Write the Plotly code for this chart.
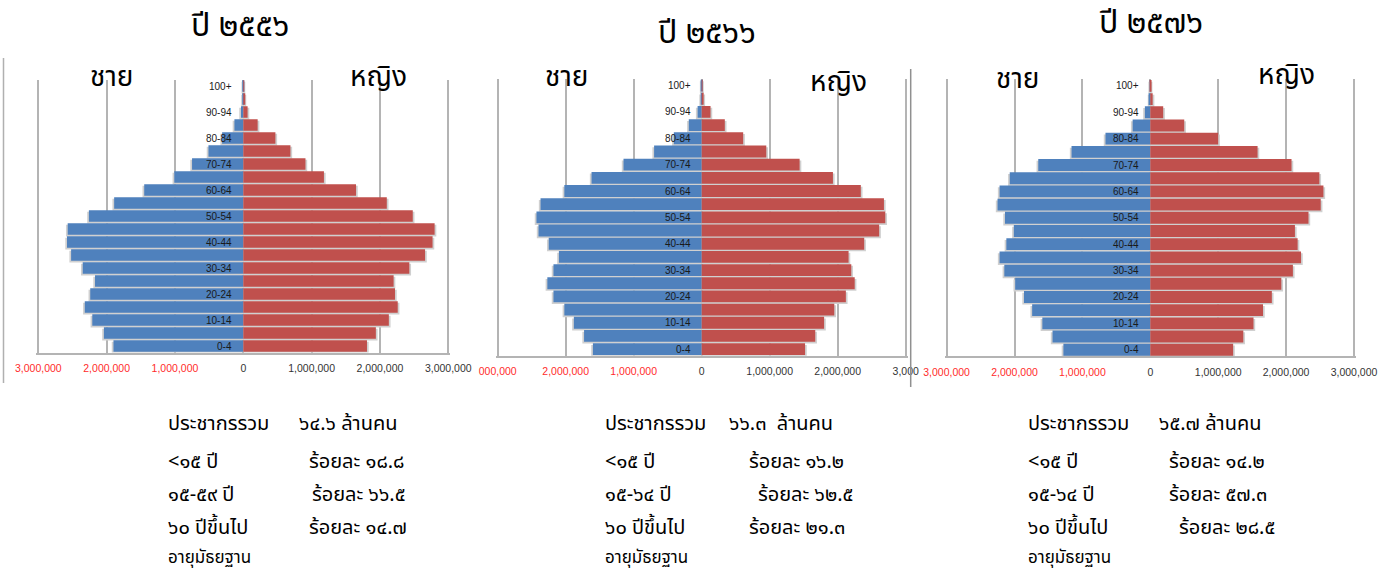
import plotly.graph_objects as go

ages = ["0-4", "5-9", "10-14", "15-19", "20-24", "25-29", "30-34", "35-39", "40-44",
        "45-49", "50-54", "55-59", "60-64", "65-69", "70-74", "75-79", "80-84",
        "85-89", "90-94", "95-99", "100+"]

years = ["ปี ๒๕๕๖", "ปี ๒๕๖๖", "ปี ๒๕๗๖"]

male_2556 = [1900000, 2040000, 2210000, 2320000, 2240000, 2170000, 2350000, 2520000, 2580000,
             2570000, 2260000, 1890000, 1450000, 1010000, 750000, 510000, 310000, 130000,
             34000, 6000, 1000]
female_2556 = [1810000, 1940000, 2130000, 2260000, 2220000, 2200000, 2430000, 2660000, 2770000,
               2800000, 2480000, 2100000, 1650000, 1180000, 910000, 690000, 470000, 210000,
               63000, 18000, 3000]

male_2566 = [1600000, 1730000, 1880000, 2020000, 2180000, 2270000, 2180000, 2100000, 2250000,
             2400000, 2430000, 2370000, 2020000, 1620000, 1150000, 700000, 410000, 190000,
             60000, 10000, 2000]
female_2566 = [1520000, 1670000, 1800000, 1950000, 2120000, 2250000, 2200000, 2160000, 2390000,
               2610000, 2700000, 2680000, 2340000, 1930000, 1440000, 950000, 610000, 340000,
               130000, 25000, 5000]

male_2576 = [1280000, 1440000, 1590000, 1740000, 1860000, 1990000, 2150000, 2220000, 2120000,
             2010000, 2140000, 2250000, 2220000, 2070000, 1650000, 1160000, 660000, 260000,
             80000, 12000, 3000]
female_2576 = [1220000, 1370000, 1520000, 1660000, 1790000, 1930000, 2100000, 2220000, 2170000,
               2130000, 2330000, 2510000, 2550000, 2490000, 2080000, 1580000, 1000000, 500000,
               190000, 35000, 6000]

tick_vals = [-3000000, -2000000, -1000000, 0, 1000000, 2000000, 3000000]
tick_text_full = ["3,000,000", "2,000,000", "1,000,000", "0", "1,000,000", "2,000,000", "3,000,000"]
tick_text_mid = ["000,000", "2,000,000", "1,000,000", "0", "1,000,000", "2,000,000", "3,000"]

summary_rows = [
    ["ประชากรรวม", "<๑๕ ปี", "๑๕-๕๙ ปี", "๖๐ ปีขึ้นไป", "อายุมัธยฐาน"],
    ["ประชากรรวม", "<๑๕ ปี", "๑๕-๖๔ ปี", "๖๐ ปีขึ้นไป", "อายุมัธยฐาน"],
    ["ประชากรรวม", "<๑๕ ปี", "๑๕-๖๔ ปี", "๖๐ ปีขึ้นไป", "อายุมัธยฐาน"],
]
summary_vals = [
    ["๖๔.๖ ล้านคน", "ร้อยละ ๑๘.๘", "ร้อยละ ๖๖.๕", "ร้อยละ ๑๔.๗"],
    ["๖๖.๓  ล้านคน", "ร้อยละ ๑๖.๒", "ร้อยละ ๖๒.๕", "ร้อยละ ๒๑.๓"],
    ["๖๕.๗ ล้านคน", "ร้อยละ ๑๔.๒", "ร้อยละ ๕๗.๓", "ร้อยละ ๒๘.๕"],
]

males = [male_2556, male_2566, male_2576]
females = [female_2556, female_2566, female_2576]

W, H = 1395, 576
BLUE = "#4F81BD"
RED = "#C0504D"
SHADOW = "#d0d0d0"
GRID = "#b4b4b4"
THAI = "Noto Sans Thai, Noto Sans Thai UI, Tahoma, Noto Sans, sans-serif"
LAT = "Liberation Sans, Arial, sans-serif"

# panel geometry (pixels): zero x, px per million, top y, bottom y
panels = [
    dict(zero=243.3, ppm=68.33, top=79.5, bottom=352.5, title=(240, 26),
         men=(111, 77), women=(378, 77), ticks=tick_text_full,
         left_text=166, vals_x=[297, 307, 310, 307]),
    dict(zero=701.7, ppm=68.0, top=79.0, bottom=355.7, title=(707, 33),
         men=(566, 78), women=(838, 82), ticks=tick_text_mid,
         left_text=603, vals_x=[727, 747, 756, 747]),
    dict(zero=1150.3, ppm=67.9, top=79.3, bottom=356.3, title=(1151, 23),
         men=(1017, 80), women=(1286, 76), ticks=tick_text_full,
         left_text=1026, vals_x=[1157, 1167, 1167, 1177]),
]
row_y = [424, 462, 495, 528, 558]

R = 3030000
fig = go.Figure()
annotations = []
shapes = []
layout = {}

for i, p in enumerate(panels):
    n = "" if i == 0 else str(i + 1)
    xa, ya = "x" + n, "y" + n
    m, f = males[i], females[i]
    # shadows
    fig.add_trace(go.Bar(y=ages, x=[-(v + 25000) for v in m], orientation="h",
                         marker=dict(color=SHADOW, line_width=0), width=0.9, offset=-0.58,
                         xaxis=xa, yaxis=ya, hoverinfo="skip", showlegend=False))
    fig.add_trace(go.Bar(y=ages, x=[v + 25000 for v in f], orientation="h",
                         marker=dict(color=SHADOW, line_width=0), width=0.9, offset=-0.58,
                         xaxis=xa, yaxis=ya, hoverinfo="skip", showlegend=False))
    fig.add_trace(go.Bar(y=ages, x=[-v for v in m], orientation="h", name="ชาย",
                         marker=dict(color=BLUE, line_width=0), width=0.9,
                         xaxis=xa, yaxis=ya, showlegend=False))
    fig.add_trace(go.Bar(y=ages, x=f, orientation="h", name="หญิง",
                         marker=dict(color=RED, line_width=0), width=0.9,
                         xaxis=xa, yaxis=ya, showlegend=False))

    x0 = p["zero"] - R / 1e6 * p["ppm"]
    x1 = p["zero"] + R / 1e6 * p["ppm"]
    ticktext = []
    for v, t in zip(tick_vals, p["ticks"]):
        if v < 0:
            ticktext.append('<span style="color:#ff2b2b">' + t + "</span>")
        else:
            ticktext.append(t)
    layout["xaxis" + n] = dict(
        domain=[x0 / W, x1 / W], range=[-R, R], anchor=ya,
        tickvals=tick_vals, ticktext=ticktext, showgrid=True, gridcolor=GRID, gridwidth=1.5,
        zeroline=True, zerolinecolor=GRID, zerolinewidth=1.5,
        showline=True, linecolor=GRID, linewidth=1.5, ticks="", ticklabelstandoff=5,
        tickfont=dict(family=LAT, size=10.5, color="#333333"), fixedrange=True,
        automargin=False,
    )
    layout["yaxis" + n] = dict(
        domain=[1 - p["bottom"] / H, 1 - p["top"] / H], anchor=xa,
        type="category", categoryorder="array", categoryarray=ages,
        range=[-0.5, 20.5], showticklabels=False, showgrid=False, zeroline=False,
        showline=False, ticks="", fixedrange=True, automargin=False,
    )
    for k in range(0, len(ages), 2):
        annotations.append(dict(x=0, y=ages[k], xref=xa, yref=ya, text=ages[k],
                                showarrow=False, xanchor="right", xshift=-9,
                                font=dict(family=LAT, size=10, color="#1a1a1a")))
    # titles
    annotations.append(dict(x=p["title"][0] / W, y=1 - p["title"][1] / H, xref="paper", yref="paper",
                            text=years[i], showarrow=False, xanchor="center", yanchor="middle",
                            font=dict(family=THAI, size=32, color="#000000")))
    annotations.append(dict(x=p["men"][0] / W, y=1 - p["men"][1] / H, xref="paper", yref="paper",
                            text="ชาย", showarrow=False, xanchor="center", yanchor="middle",
                            font=dict(family=THAI, size=28, color="#000000")))
    annotations.append(dict(x=p["women"][0] / W, y=1 - p["women"][1] / H, xref="paper", yref="paper",
                            text="หญิง", showarrow=False, xanchor="center", yanchor="middle",
                            font=dict(family=THAI, size=28, color="#000000")))
    # summary text
    for r, label in enumerate(summary_rows[i]):
        annotations.append(dict(x=p["left_text"] / W, y=1 - row_y[r] / H, xref="paper", yref="paper",
                                text=label, showarrow=False, xanchor="left", yanchor="middle",
                                font=dict(family=THAI, size=17 if r == 4 else 20, color="#000000")))
    for r, val in enumerate(summary_vals[i]):
        annotations.append(dict(x=p["vals_x"][r] / W, y=1 - row_y[r] / H, xref="paper", yref="paper",
                                text=val, showarrow=False, xanchor="left", yanchor="middle",
                                font=dict(family=THAI, size=20, color="#000000")))

# separator lines
shapes.append(dict(type="line", xref="paper", yref="paper", x0=3.5 / W, x1=3.5 / W,
                   y0=1 - 383 / H, y1=1 - 58 / H, line=dict(color="#b0b0b0", width=1.5)))
shapes.append(dict(type="line", xref="paper", yref="paper", x0=910.7 / W, x1=910.7 / W,
                   y0=1 - 387 / H, y1=1 - 69 / H, line=dict(color="#909090", width=1.5)))

fig.update_layout(
    width=W, height=H, autosize=False,
    margin=dict(l=0, r=0, t=0, b=0, pad=0, autoexpand=False),
    paper_bgcolor="white", plot_bgcolor="white",
    barmode="overlay", bargap=0.08,
    annotations=annotations, shapes=shapes,
    **layout,
)

fig.write_html("out.html", config={"displayModeBar": False},
               post_script="document.body.style.margin='0px';document.body.style.overflow='hidden';")
